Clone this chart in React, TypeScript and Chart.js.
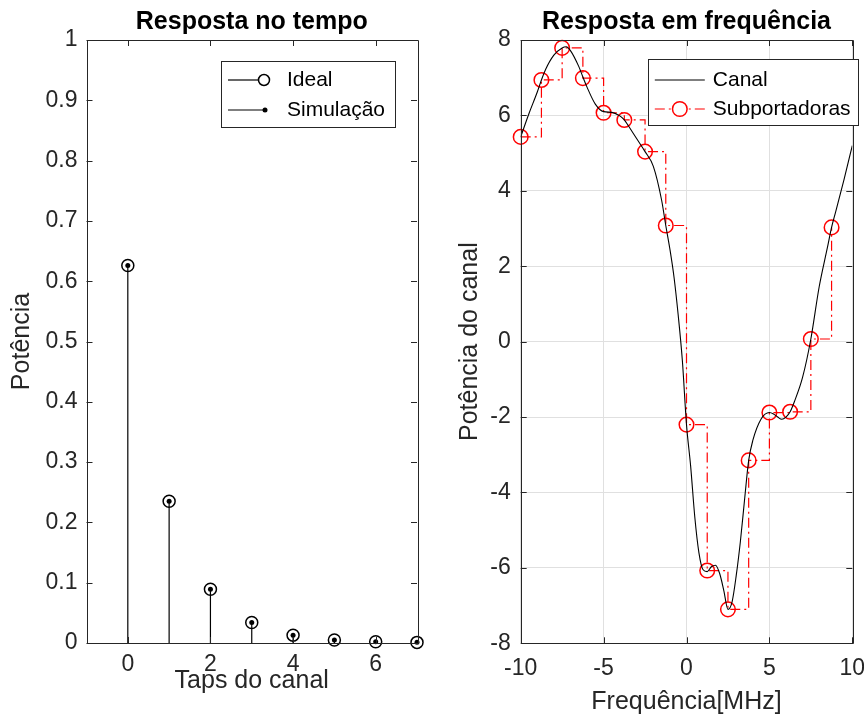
import React, { useEffect, useRef } from "react";
import { Chart, registerables } from "chart.js";

Chart.register(...registerables);

// ---------- Left panel data (time response) ----------
const tapIndex = [0, 1, 2, 3, 4, 5, 6, 7];
const idealPower = [0.626, 0.235, 0.089, 0.034, 0.013, 0.005, 0.002, 0.001];
const simPower = [0.626, 0.235, 0.089, 0.034, 0.013, 0.005, 0.0022, 0.0012];
const tapTicks = [0, 2, 4, 6];
const potTicks = [0, 0.1, 0.2, 0.3, 0.4, 0.5, 0.6, 0.7, 0.8, 0.9, 1];
const potTickLabels = ["0", "0.1", "0.2", "0.3", "0.4", "0.5", "0.6", "0.7", "0.8", "0.9", "1"];

// ---------- Right panel data (frequency response) ----------
const subFreq = [-10, -8.75, -7.5, -6.25, -5, -3.75, -2.5, -1.25, 0, 1.25, 2.5, 3.75, 5, 6.25, 7.5, 8.75];
const subPower = [5.43, 6.94, 7.79, 6.99, 6.07, 5.88, 5.04, 3.08, -2.2, -6.07, -7.1, -3.15, -1.88, -1.86, 0.07, 3.03];
const canalFreq = [
  -10, -9.5, -9, -8.75, -8.5, -8, -7.5, -7.25, -7, -6.5,
  -6.25, -6, -5.5, -5, -4.5, -4, -3.75, -3.5, -3, -2.5,
  -2, -1.5, -1.25, -1, -0.75, -0.5, -0.25, 0, 0.25, 0.5,
  0.75, 1, 1.25, 1.5, 1.75, 2, 2.25, 2.5, 2.75, 3,
  3.25, 3.5, 3.75, 4, 4.5, 5, 5.25, 5.5, 5.75, 6,
  6.25, 6.5, 7, 7.5, 8, 8.5, 8.75, 9, 9.5, 10,
];
const canalPower = [
  5.43, 6.05, 6.62, 6.94, 7.22, 7.6, 7.79, 7.82, 7.72, 7.3,
  7.02, 6.75, 6.3, 6.1, 6.08, 5.98, 5.88, 5.72, 5.38, 5.04,
  4.65, 3.75, 3.08, 2.45, 1.7, 0.7, -0.5, -2.2, -3.3, -4.65,
  -5.6, -6.05, -6.1, -5.97, -5.93, -6.15, -6.6, -7.1, -6.9, -6.2,
  -5.3, -4.2, -3.15, -2.62, -2.05, -1.88, -1.92, -2.0, -2.06, -2.0,
  -1.86, -1.6, -0.95, 0.07, 1.45, 2.5, 3.03, 3.45, 4.3, 5.2,
];
const freqTicks = [-10, -5, 0, 5, 10];
const canalTicks = [-8, -6, -4, -2, 0, 2, 4, 6, 8];

const FONT = "'Liberation Sans', Arial, Helvetica, sans-serif";
const AXIS_COLOR = "#262626";

const boxPlugin = {
  id: "matlabBox",
  afterDatasetsDraw(chart: any) {
    const { ctx, chartArea: a, scales } = chart;
    const xs = scales.x;
    const ys = scales.y;
    const L = 6;
    ctx.save();
    ctx.strokeStyle = AXIS_COLOR;
    ctx.lineWidth = 1;
    ctx.beginPath();
    xs.ticks.forEach((t: any) => {
      const px = Math.round(xs.getPixelForValue(t.value)) + 0.5;
      ctx.moveTo(px, a.bottom);
      ctx.lineTo(px, a.bottom - L);
      ctx.moveTo(px, a.top);
      ctx.lineTo(px, a.top + L);
    });
    ys.ticks.forEach((t: any) => {
      const py = Math.round(ys.getPixelForValue(t.value)) + 0.5;
      ctx.moveTo(a.left, py);
      ctx.lineTo(a.left + L, py);
      ctx.moveTo(a.right, py);
      ctx.lineTo(a.right - L, py);
    });
    ctx.stroke();
    ctx.beginPath();
    ctx.rect(Math.round(a.left) + 0.5, Math.round(a.top) + 0.5, Math.round(a.right - a.left), Math.round(a.bottom - a.top));
    ctx.stroke();
    ctx.restore();
  },
};

function makeTitlePlugin(text: string) {
  return {
    id: "panelTitle",
    afterDraw(chart: any) {
      const { ctx, chartArea: a } = chart;
      ctx.save();
      ctx.fillStyle = "#000";
      ctx.font = `bold 25px ${FONT}`;
      ctx.textAlign = "center";
      ctx.textBaseline = "alphabetic";
      ctx.fillText(text, (a.left + a.right) / 2, 29);
      ctx.restore();
    },
  };
}

const leftLegendPlugin = {
  id: "leftLegend",
  afterDraw(chart: any) {
    const { ctx, chartArea: a } = chart;
    const bx = a.right - 196;
    const by = a.top + 21;
    const bw = 174;
    const bh = 66;
    ctx.save();
    ctx.fillStyle = "#fff";
    ctx.fillRect(bx, by, bw, bh);
    ctx.strokeStyle = AXIS_COLOR;
    ctx.lineWidth = 1;
    ctx.strokeRect(Math.round(bx) + 0.5, Math.round(by) + 0.5, bw, bh);
    const y1 = by + 19;
    const y2 = by + 49;
    ctx.strokeStyle = "#000";
    ctx.lineWidth = 1.2;
    ctx.beginPath();
    ctx.moveTo(bx + 7, y1);
    ctx.lineTo(bx + 37, y1);
    ctx.stroke();
    ctx.lineWidth = 1.5;
    ctx.beginPath();
    ctx.arc(bx + 43, y1, 5.5, 0, Math.PI * 2);
    ctx.stroke();
    ctx.lineWidth = 1.2;
    ctx.beginPath();
    ctx.moveTo(bx + 7, y2);
    ctx.lineTo(bx + 44, y2);
    ctx.stroke();
    ctx.fillStyle = "#000";
    ctx.beginPath();
    ctx.arc(bx + 44, y2, 2.5, 0, Math.PI * 2);
    ctx.fill();
    ctx.font = `21px ${FONT}`;
    ctx.textAlign = "left";
    ctx.textBaseline = "middle";
    ctx.fillText("Ideal", bx + 66, y1);
    ctx.fillText("Simulação", bx + 66, y2);
    ctx.restore();
  },
};

const rightLegendPlugin = {
  id: "rightLegend",
  afterDraw(chart: any) {
    const { ctx, chartArea: a } = chart;
    const bx = a.right - 204.5;
    const by = a.top + 19;
    const bw = 210;
    const bh = 66;
    ctx.save();
    ctx.fillStyle = "#fff";
    ctx.fillRect(bx, by, bw, bh);
    ctx.strokeStyle = AXIS_COLOR;
    ctx.lineWidth = 1;
    ctx.strokeRect(Math.round(bx) + 0.5, Math.round(by) + 0.5, bw, bh);
    const y1 = by + 21;
    const y2 = by + 50;
    ctx.strokeStyle = "#000";
    ctx.lineWidth = 1.1;
    ctx.beginPath();
    ctx.moveTo(bx + 7, y1);
    ctx.lineTo(bx + 57, y1);
    ctx.stroke();
    ctx.strokeStyle = "#ff0000";
    ctx.lineWidth = 1.2;
    ctx.setLineDash([10, 4, 2, 4]);
    ctx.beginPath();
    ctx.moveTo(bx + 7, y2);
    ctx.lineTo(bx + 57, y2);
    ctx.stroke();
    ctx.setLineDash([]);
    ctx.lineWidth = 1.5;
    ctx.fillStyle = "#fff";
    ctx.beginPath();
    ctx.arc(bx + 32, y2, 7.3, 0, Math.PI * 2);
    ctx.fill();
    ctx.stroke();
    ctx.fillStyle = "#000";
    ctx.font = `21px ${FONT}`;
    ctx.textAlign = "left";
    ctx.textBaseline = "middle";
    ctx.fillText("Canal", bx + 65, y1);
    ctx.fillText("Subportadoras", bx + 65, y2);
    ctx.restore();
  },
};

function tickFont() {
  return { family: FONT, size: 23 };
}
function labelFont() {
  return { family: FONT, size: 25 };
}
function noPad(s: any) {
  s.paddingLeft = 0;
  s.paddingRight = 0;
  s.paddingTop = 0;
  s.paddingBottom = 0;
}

export default function App() {
  const leftRef = useRef<HTMLCanvasElement>(null);
  const rightRef = useRef<HTMLCanvasElement>(null);

  useEffect(() => {
    const stemData: any[] = [];
    tapIndex.forEach((k, i) => {
      stemData.push({ x: k, y: 0 }, { x: k, y: idealPower[i] }, { x: k, y: null });
    });

    const left = new Chart(leftRef.current as HTMLCanvasElement, {
      type: "scatter",
      data: {
        datasets: [
          {
            label: "Ideal",
            data: tapIndex.map((k, i) => ({ x: k, y: idealPower[i] })),
            pointRadius: 6,
            pointBorderWidth: 1.5,
            pointBorderColor: "#000",
            pointBackgroundColor: "rgba(0,0,0,0)",
            clip: false,
          },
          {
            label: "Simulação",
            data: tapIndex.map((k, i) => ({ x: k, y: simPower[i] })),
            pointRadius: 2.5,
            pointBorderWidth: 0,
            pointBackgroundColor: "#000",
            pointBorderColor: "#000",
            clip: false,
          },
          {
            label: "stems",
            data: stemData,
            showLine: true,
            spanGaps: false,
            borderColor: "#000",
            borderWidth: 1.2,
            pointRadius: 0,
          } as any,
        ],
      },
      options: {
        responsive: false,
        animation: false,
        devicePixelRatio: 1,
        events: [],
        layout: { padding: { top: 40, right: 23, left: 0, bottom: 0 } },
        plugins: { legend: { display: false }, tooltip: { enabled: false } },
        scales: {
          x: {
            type: "linear",
            min: -1,
            max: 7,
            afterBuildTicks: (s: any) => {
              s.ticks = tapTicks.map((v) => ({ value: v }));
            },
            afterFit: (s: any) => {
              s.height = 77;
              noPad(s);
            },
            grid: { display: false, drawTicks: false },
            border: { display: false },
            ticks: {
              color: AXIS_COLOR,
              font: tickFont(),
              padding: 8,
              maxRotation: 0,
              autoSkip: false,
              callback: (v: any) => String(v),
            },
            title: {
              display: true,
              text: "Taps do canal",
              color: AXIS_COLOR,
              font: labelFont(),
              padding: { top: 0, bottom: 24 },
            },
          },
          y: {
            type: "linear",
            min: 0,
            max: 1,
            afterBuildTicks: (s: any) => {
              s.ticks = potTicks.map((v) => ({ value: v }));
            },
            afterFit: (s: any) => {
              s.width = 86.5;
              noPad(s);
            },
            grid: { display: false, drawTicks: false },
            border: { display: false },
            ticks: {
              color: AXIS_COLOR,
              font: tickFont(),
              padding: 9,
              autoSkip: false,
              callback: (v: any) => potTickLabels[potTicks.indexOf(v)] ?? String(v),
            },
            title: {
              display: true,
              text: "Potência",
              color: AXIS_COLOR,
              font: labelFont(),
              padding: { top: 7, bottom: 0 },
            },
          },
        },
      },
      plugins: [boxPlugin, makeTitlePlugin("Resposta no tempo"), leftLegendPlugin],
    } as any);

    const right = new Chart(rightRef.current as HTMLCanvasElement, {
      type: "scatter",
      data: {
        datasets: [
          {
            label: "Canal",
            data: canalFreq.map((f, i) => ({ x: f, y: canalPower[i] })),
            showLine: true,
            borderColor: "#000",
            borderWidth: 1.1,
            pointRadius: 0,
            cubicInterpolationMode: "monotone",
          } as any,
          {
            label: "Subportadoras",
            data: subFreq.map((f, i) => ({ x: f, y: subPower[i] })),
            showLine: true,
            stepped: true,
            borderColor: "#ff0000",
            borderWidth: 1.2,
            borderDash: [10, 4, 2, 4],
            pointRadius: 7.3,
            pointBorderWidth: 1.5,
            pointBorderColor: "#ff0000",
            pointBackgroundColor: "rgba(0,0,0,0)",
            clip: false,
          } as any,
        ],
      },
      options: {
        responsive: false,
        animation: false,
        devicePixelRatio: 1,
        events: [],
        layout: { padding: { top: 40, right: 11.7, left: 0, bottom: 0 } },
        plugins: { legend: { display: false }, tooltip: { enabled: false } },
        scales: {
          x: {
            type: "linear",
            min: -10,
            max: 10,
            afterBuildTicks: (s: any) => {
              s.ticks = freqTicks.map((v) => ({ value: v }));
            },
            afterFit: (s: any) => {
              s.height = 76.7;
              noPad(s);
            },
            grid: { display: true, drawTicks: false, color: "#e0e0e0", lineWidth: 1 },
            border: { display: false },
            ticks: {
              color: AXIS_COLOR,
              font: tickFont(),
              padding: 12,
              maxRotation: 0,
              autoSkip: false,
              callback: (v: any) => String(v),
            },
            title: {
              display: true,
              text: "Frequência[MHz]",
              color: AXIS_COLOR,
              font: labelFont(),
              padding: { top: 0, bottom: 3 },
            },
          },
          y: {
            type: "linear",
            min: -8,
            max: 8,
            afterBuildTicks: (s: any) => {
              s.ticks = canalTicks.map((v) => ({ value: v }));
            },
            afterFit: (s: any) => {
              s.width = 80.7;
              noPad(s);
            },
            grid: { display: true, drawTicks: false, color: "#e0e0e0", lineWidth: 1 },
            border: { display: false },
            ticks: {
              color: AXIS_COLOR,
              font: tickFont(),
              padding: 10,
              autoSkip: false,
              callback: (v: any) => String(v),
            },
            title: {
              display: true,
              text: "Potência do canal",
              color: AXIS_COLOR,
              font: labelFont(),
              padding: { top: 15, bottom: 0 },
            },
          },
        },
      },
      plugins: [boxPlugin, makeTitlePlugin("Resposta em frequência"), rightLegendPlugin],
    } as any);

    return () => {
      left.destroy();
      right.destroy();
    };
  }, []);

  return (
    <div style={{ position: "absolute", left: 0, top: 0, width: 864, height: 720, background: "#fff" }}>
      <canvas ref={leftRef} width={440} height={720} style={{ position: "absolute", left: 0, top: 0 }} />
      <canvas ref={rightRef} width={424} height={720} style={{ position: "absolute", left: 440, top: 0 }} />
    </div>
  );
}
